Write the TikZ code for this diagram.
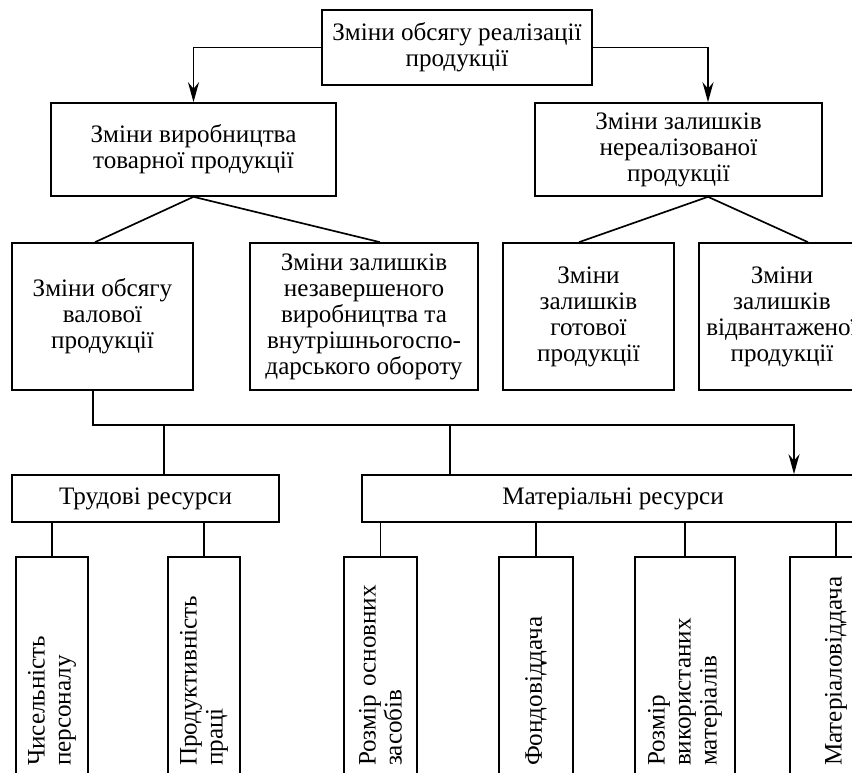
\documentclass[tikz,border=0pt]{standalone}
\usepackage{fontspec}
\setmainfont{Liberation Serif}
\usetikzlibrary{arrows.meta}

\begin{document}
\begin{tikzpicture}[x=0.02cm,y=-0.02cm,line width=0.95pt,
  box/.style={draw,align=center,inner sep=0pt,font=\fontsize{14.3}{14.8}\selectfont},
  vbox/.style={box,rotate=90,minimum width=4.46cm,text width=3.9cm,align=left},
  arr/.style={-{Stealth[length=0.4cm,width=0.22cm]}}]
\useasboundingbox (0,0) rectangle (852,773);
\clip (0,0) rectangle (852,773);
\node[box,minimum width=5.4cm,minimum height=1.5cm] (top) at (457,47.5) {Зміни обсягу реалізації\\продукції};
\node[box,minimum width=5.7cm,minimum height=1.86cm] (prodT) at (193.5,149.5) {Зміни виробництва\\товарної продукції};
\node[box,minimum width=5.74cm,minimum height=1.86cm] (unsold) at (678.5,149.5) {Зміни залишків\\нереалізованої\\продукції};
\node[box,minimum width=3.62cm,minimum height=2.94cm] (gross) at (102.5,316.5) {Зміни обсягу\\валової\\продукції};
\node[box,minimum width=4.56cm,minimum height=2.94cm] (wip) at (364,316.5) {Зміни залишків\\незавершеного\\виробництва та\\внутрішньогоспо-\\дарського обороту};
\node[box,minimum width=3.42cm,minimum height=2.94cm] (fin) at (588.5,316.5) {Зміни\\залишків\\готової\\продукції};
\node[box,minimum width=3.32cm,minimum height=2.94cm] (ship) at (782,316.5) {Зміни\\залишків\\відвантаженої\\продукції};
\node[box,minimum width=5.34cm,minimum height=0.94cm] (trud) at (145.5,498.5) {Трудові ресурси};
\node[box,minimum width=10.04cm,minimum height=0.94cm] (mat) at (613,498.5) {Матеріальні ресурси};
\node[vbox,minimum height=1.44cm] (chis) at (52,668.5) {Чисельність\\персоналу};
\node[vbox,minimum height=1.44cm] (prac) at (204,668.5) {Продуктивність\\праці};
\node[vbox,minimum height=1.46cm] (osn) at (380.5,668.5) {Розмір основних\\засобів};
\node[vbox,minimum height=1.48cm] (fond) at (536,668.5) {Фондовіддача};
\node[vbox,minimum height=2.0cm] (vyk) at (685,668.5) {Розмір\\використаних\\матеріалів};
\node[vbox,minimum height=1.84cm] (matv) at (836,668.5) {Матеріаловіддача};
\coordinate (bus) at (794,425);
\draw[arr] (top.west) -| (prodT.north);
\draw[arr] (top.east) -| ([xshift=0.59cm]unsold.north);
\draw (prodT.south) -- ([xshift=-0.15cm]gross.north);
\draw (prodT.south) -- ([xshift=0.32cm]wip.north);
\draw ([xshift=0.59cm]unsold.south) -- ([xshift=-0.19cm]fin.north);
\draw ([xshift=0.59cm]unsold.south) -- ([xshift=0.52cm]ship.north);
\draw[arr] ([xshift=-0.19cm]gross.south) |- (bus) -- (bus |- mat.north);
\draw ([xshift=0.37cm]trud.north) |- (bus);
\draw ([xshift=-3.26cm]mat.north) |- (bus);
\draw (chis.east) -- (chis.east |- trud.south);
\draw (prac.east) -- (prac.east |- trud.south);
\draw (osn.east) -- (osn.east |- mat.south);
\draw (fond.east) -- (fond.east |- mat.south);
\draw (vyk.east) -- (vyk.east |- mat.south);
\draw (matv.east) -- (matv.east |- mat.south);
\end{tikzpicture}
\end{document}
